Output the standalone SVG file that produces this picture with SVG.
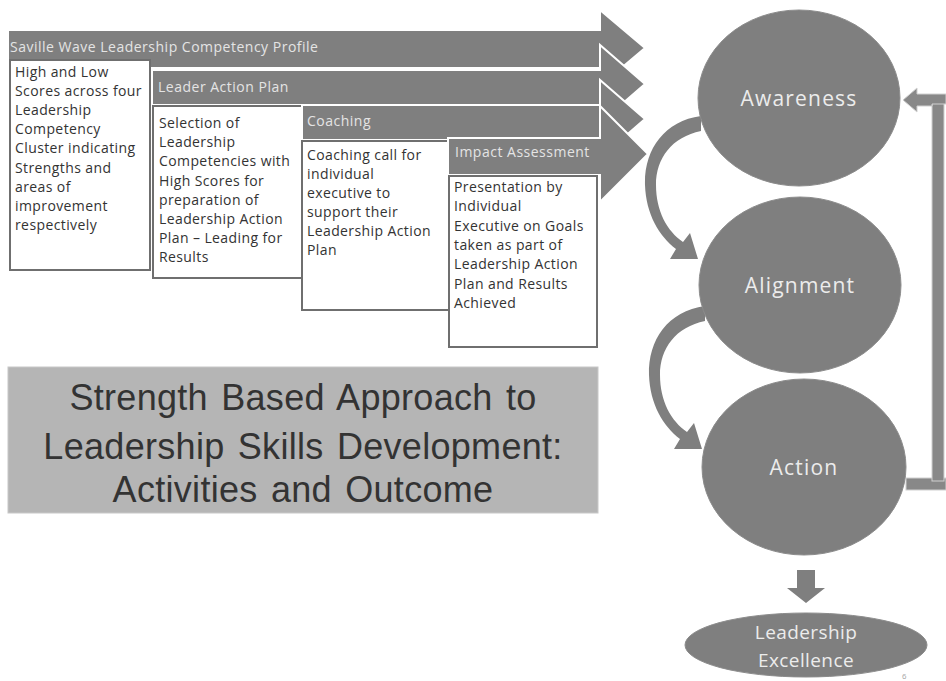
<svg xmlns="http://www.w3.org/2000/svg" width="946" height="681" viewBox="0 0 946 681">
<style>
.bar{fill:#7f7f7f;stroke:#ffffff;stroke-width:2;stroke-linejoin:miter}
.bt{font-family:"Open Sans","Noto Sans",sans-serif;font-size:14px;letter-spacing:0.5px;fill:#e4e4e4}
.box{fill:#ffffff;stroke:#6f6f6f;stroke-width:2}
.tx{font-family:"Open Sans","Noto Sans",sans-serif;font-size:14px;letter-spacing:0.4px;fill:#333333}
.node{fill:#7f7f7f;stroke:#8c8c8c;stroke-width:1}
.nt{font-family:"Open Sans","Noto Sans",sans-serif;font-size:21px;letter-spacing:1.2px;fill:#ececec;text-anchor:middle}
.nt2{font-family:"Open Sans","Noto Sans",sans-serif;font-size:19px;letter-spacing:0.4px;fill:#ececec;text-anchor:middle}
.conf{fill:#7f7f7f;stroke:none}
.fb{fill:#888888;stroke:#d0d0d0;stroke-width:1}
.tt{font-family:"Liberation Sans",Arial,sans-serif;font-size:36px;letter-spacing:0.3px;word-spacing:3px;fill:#333333;text-anchor:middle}
</style>
<rect width="946" height="681" fill="#ffffff"/>

<g id="step1">
<polygon class="bar" points="8,30 600,30 600,10 645,48 600,86 600,68 8,68"/>
<text class="bt" x="10" y="52">Saville Wave Leadership Competency Profile</text>
<rect class="box" x="10" y="60" width="140" height="210"/>
<text class="tx" x="15" y="77">High and Low</text>
<text class="tx" x="15" y="96">Scores across four</text>
<text class="tx" x="15" y="115">Leadership</text>
<text class="tx" x="15" y="134">Competency</text>
<text class="tx" x="15" y="153">Cluster indicating</text>
<text class="tx" x="15" y="173">Strengths and</text>
<text class="tx" x="15" y="192">areas of</text>
<text class="tx" x="15" y="211">improvement</text>
<text class="tx" x="15" y="230">respectively</text>
</g>

<g id="step2">
<polygon class="bar" points="152,70 600,70 600,45 645,84 600,123 600,105 152,105"/>
<text class="bt" x="158" y="92">Leader Action Plan</text>
<rect class="box" x="153" y="106" width="149" height="172"/>
<text class="tx" x="159" y="128">Selection of</text>
<text class="tx" x="159" y="147">Leadership</text>
<text class="tx" x="159" y="166">Competencies with</text>
<text class="tx" x="159" y="186">High Scores for</text>
<text class="tx" x="159" y="205">preparation of</text>
<text class="tx" x="159" y="224">Leadership Action</text>
<text class="tx" x="159" y="243">Plan – Leading for</text>
<text class="tx" x="159" y="262">Results</text>
</g>

<g id="step3">
<polygon class="bar" points="302,105 600,105 600,80 645,119 600,158 600,140 302,140"/>
<text class="bt" x="307" y="126">Coaching</text>
<rect class="box" x="302" y="141" width="148" height="169"/>
<text class="tx" x="307" y="160">Coaching call for</text>
<text class="tx" x="307" y="179">individual</text>
<text class="tx" x="307" y="198">executive to</text>
<text class="tx" x="307" y="217">support their</text>
<text class="tx" x="307" y="236">Leadership Action</text>
<text class="tx" x="307" y="255">Plan</text>
</g>

<g id="step4">
<polygon class="bar" points="448,138 600,138 600,106 648,154 600,202 600,175 448,175"/>
<text class="bt" x="455" y="157">Impact Assessment</text>
<rect class="box" x="449" y="176" width="148" height="171"/>
<text class="tx" x="454" y="192">Presentation by</text>
<text class="tx" x="454" y="211">Individual</text>
<text class="tx" x="454" y="231">Executive on Goals</text>
<text class="tx" x="454" y="250">taken as part of</text>
<text class="tx" x="454" y="269">Leadership Action</text>
<text class="tx" x="454" y="289">Plan and Results</text>
<text class="tx" x="454" y="308">Achieved</text>
</g>

<g id="title">
<rect x="8" y="367" width="590" height="146" fill="#b5b5b5" stroke="#c8c8c8" stroke-width="1"/>
<text class="tt" x="303" y="410">Strength Based Approach to</text>
<text class="tt" x="303" y="459">Leadership Skills Development:</text>
<text class="tt" x="303" y="502">Activities and Outcome</text>
</g>

<g id="connectors">
<path id="curve1" class="conf" d="M701,116 C664,121 644,150 645,185 C646,214 659,236 676,249 L670,259 L698,259 L690,233 L683,242 C667,231 656,211 656,185 C656,158 672,137 701,131 Z"/>
<path id="curve2" class="conf" transform="translate(4,190)" d="M701,116 C664,121 644,150 645,185 C646,214 659,236 676,249 L670,259 L698,259 L690,233 L683,242 C667,231 656,211 656,185 C656,158 672,137 701,131 Z"/>
<rect class="fb" x="906" y="478" width="40" height="12"/>
<rect class="fb" x="932" y="103" width="12" height="378"/>
<polygon class="fb" points="946,94 917,94 917,88 903,100 917,112 917,106 932,106 932,104 946,104"/>
<polygon class="conf" points="797,570 815,570 815,588 825,588 806,603 787,588 797,588"/>
</g>

<g id="awareness">
<ellipse class="node" cx="799" cy="98" rx="101" ry="88"/>
<text class="nt" x="799" y="106">Awareness</text>
</g>
<g id="alignment">
<ellipse class="node" cx="800" cy="285" rx="101" ry="88"/>
<text class="nt" x="800" y="293">Alignment</text>
</g>
<g id="action">
<ellipse class="node" cx="804" cy="467" rx="102" ry="88"/>
<text class="nt" x="804" y="475">Action</text>
</g>
<g id="excellence">
<ellipse class="node" cx="806" cy="645" rx="121" ry="32"/>
<text class="nt2" x="806" y="639">Leadership</text>
<text class="nt2" x="806" y="667">Excellence</text>
</g>
<text x="902" y="679" font-family="'Liberation Sans',sans-serif" font-size="8" fill="#aaaaaa">6</text>
</svg>
